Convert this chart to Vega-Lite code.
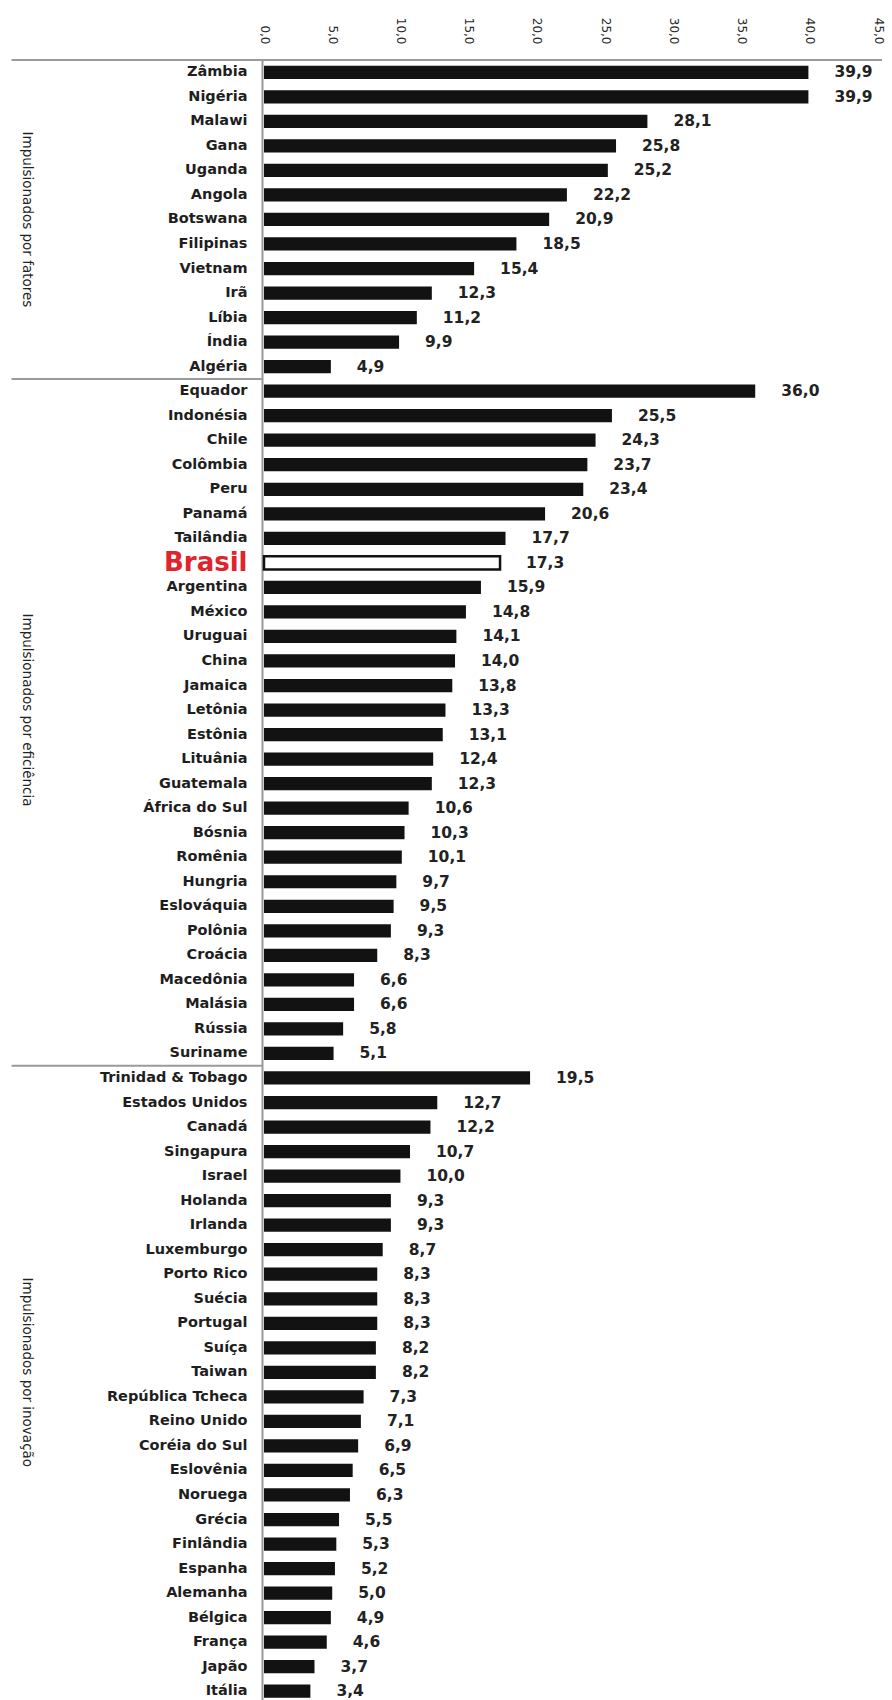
{
  "$schema": "https://vega.github.io/schema/vega-lite/v6.json",
  "autosize": {"type": "none"},
  "padding": {"left": 264, "top": 60, "right": 14, "bottom": 0},
  "width": 614,
  "height": 1643.5,
  "background": "white",
  "config": {"view": {"stroke": null}, "font": "DejaVu Sans"},
  "data": {
    "values": [
      {"grupo": "Impulsionados por fatores", "pais": "Zâmbia", "valor": 39.9},
      {"grupo": "Impulsionados por fatores", "pais": "Nigéria", "valor": 39.9},
      {"grupo": "Impulsionados por fatores", "pais": "Malawi", "valor": 28.1},
      {"grupo": "Impulsionados por fatores", "pais": "Gana", "valor": 25.8},
      {"grupo": "Impulsionados por fatores", "pais": "Uganda", "valor": 25.2},
      {"grupo": "Impulsionados por fatores", "pais": "Angola", "valor": 22.2},
      {"grupo": "Impulsionados por fatores", "pais": "Botswana", "valor": 20.9},
      {"grupo": "Impulsionados por fatores", "pais": "Filipinas", "valor": 18.5},
      {"grupo": "Impulsionados por fatores", "pais": "Vietnam", "valor": 15.4},
      {"grupo": "Impulsionados por fatores", "pais": "Irã", "valor": 12.3},
      {"grupo": "Impulsionados por fatores", "pais": "Líbia", "valor": 11.2},
      {"grupo": "Impulsionados por fatores", "pais": "Índia", "valor": 9.9},
      {"grupo": "Impulsionados por fatores", "pais": "Algéria", "valor": 4.9},
      {"grupo": "Impulsionados por eficiência", "pais": "Equador", "valor": 36.0},
      {"grupo": "Impulsionados por eficiência", "pais": "Indonésia", "valor": 25.5},
      {"grupo": "Impulsionados por eficiência", "pais": "Chile", "valor": 24.3},
      {"grupo": "Impulsionados por eficiência", "pais": "Colômbia", "valor": 23.7},
      {"grupo": "Impulsionados por eficiência", "pais": "Peru", "valor": 23.4},
      {"grupo": "Impulsionados por eficiência", "pais": "Panamá", "valor": 20.6},
      {"grupo": "Impulsionados por eficiência", "pais": "Tailândia", "valor": 17.7},
      {"grupo": "Impulsionados por eficiência", "pais": "Brasil", "valor": 17.3},
      {"grupo": "Impulsionados por eficiência", "pais": "Argentina", "valor": 15.9},
      {"grupo": "Impulsionados por eficiência", "pais": "México", "valor": 14.8},
      {"grupo": "Impulsionados por eficiência", "pais": "Uruguai", "valor": 14.1},
      {"grupo": "Impulsionados por eficiência", "pais": "China", "valor": 14.0},
      {"grupo": "Impulsionados por eficiência", "pais": "Jamaica", "valor": 13.8},
      {"grupo": "Impulsionados por eficiência", "pais": "Letônia", "valor": 13.3},
      {"grupo": "Impulsionados por eficiência", "pais": "Estônia", "valor": 13.1},
      {"grupo": "Impulsionados por eficiência", "pais": "Lituânia", "valor": 12.4},
      {"grupo": "Impulsionados por eficiência", "pais": "Guatemala", "valor": 12.3},
      {"grupo": "Impulsionados por eficiência", "pais": "África do Sul", "valor": 10.6},
      {"grupo": "Impulsionados por eficiência", "pais": "Bósnia", "valor": 10.3},
      {"grupo": "Impulsionados por eficiência", "pais": "Romênia", "valor": 10.1},
      {"grupo": "Impulsionados por eficiência", "pais": "Hungria", "valor": 9.7},
      {"grupo": "Impulsionados por eficiência", "pais": "Eslováquia", "valor": 9.5},
      {"grupo": "Impulsionados por eficiência", "pais": "Polônia", "valor": 9.3},
      {"grupo": "Impulsionados por eficiência", "pais": "Croácia", "valor": 8.3},
      {"grupo": "Impulsionados por eficiência", "pais": "Macedônia", "valor": 6.6},
      {"grupo": "Impulsionados por eficiência", "pais": "Malásia", "valor": 6.6},
      {"grupo": "Impulsionados por eficiência", "pais": "Rússia", "valor": 5.8},
      {"grupo": "Impulsionados por eficiência", "pais": "Suriname", "valor": 5.1},
      {"grupo": "Impulsionados por inovação", "pais": "Trinidad & Tobago", "valor": 19.5},
      {"grupo": "Impulsionados por inovação", "pais": "Estados Unidos", "valor": 12.7},
      {"grupo": "Impulsionados por inovação", "pais": "Canadá", "valor": 12.2},
      {"grupo": "Impulsionados por inovação", "pais": "Singapura", "valor": 10.7},
      {"grupo": "Impulsionados por inovação", "pais": "Israel", "valor": 10.0},
      {"grupo": "Impulsionados por inovação", "pais": "Holanda", "valor": 9.3},
      {"grupo": "Impulsionados por inovação", "pais": "Irlanda", "valor": 9.3},
      {"grupo": "Impulsionados por inovação", "pais": "Luxemburgo", "valor": 8.7},
      {"grupo": "Impulsionados por inovação", "pais": "Porto Rico", "valor": 8.3},
      {"grupo": "Impulsionados por inovação", "pais": "Suécia", "valor": 8.3},
      {"grupo": "Impulsionados por inovação", "pais": "Portugal", "valor": 8.3},
      {"grupo": "Impulsionados por inovação", "pais": "Suíça", "valor": 8.2},
      {"grupo": "Impulsionados por inovação", "pais": "Taiwan", "valor": 8.2},
      {"grupo": "Impulsionados por inovação", "pais": "República Tcheca", "valor": 7.3},
      {"grupo": "Impulsionados por inovação", "pais": "Reino Unido", "valor": 7.1},
      {"grupo": "Impulsionados por inovação", "pais": "Coréia do Sul", "valor": 6.9},
      {"grupo": "Impulsionados por inovação", "pais": "Eslovênia", "valor": 6.5},
      {"grupo": "Impulsionados por inovação", "pais": "Noruega", "valor": 6.3},
      {"grupo": "Impulsionados por inovação", "pais": "Grécia", "valor": 5.5},
      {"grupo": "Impulsionados por inovação", "pais": "Finlândia", "valor": 5.3},
      {"grupo": "Impulsionados por inovação", "pais": "Espanha", "valor": 5.2},
      {"grupo": "Impulsionados por inovação", "pais": "Alemanha", "valor": 5.0},
      {"grupo": "Impulsionados por inovação", "pais": "Bélgica", "valor": 4.9},
      {"grupo": "Impulsionados por inovação", "pais": "França", "valor": 4.6},
      {"grupo": "Impulsionados por inovação", "pais": "Japão", "valor": 3.7},
      {"grupo": "Impulsionados por inovação", "pais": "Itália", "valor": 3.4}
    ]
  },
  "transform": [
    {"window": [{"op": "row_number", "as": "n"}]},
    {
      "window": [{"op": "row_number", "as": "pos"}, {"op": "count", "as": "total"}],
      "groupby": ["grupo"],
      "frame": [null, null]
    },
    {"calculate": "replace(format(datum.valor, '.1f'), '.', ',')", "as": "rotulo"}
  ],
  "layer": [
    {
      "mark": {"type": "bar", "height": {"band": 0.54}, "strokeWidth": 2.5},
      "encoding": {
        "y": {
          "field": "pais",
          "type": "nominal",
          "sort": {"field": "n", "op": "min"},
          "scale": {"paddingInner": 0, "paddingOuter": 0},
          "axis": {
            "title": null,
            "orient": "left",
            "ticks": false,
            "tickSize": 0,
            "offset": 2,
            "domainColor": "#9a9a9a",
            "domainWidth": 2,
            "labelPadding": 15,
            "labelFont": "DejaVu Sans",
            "labelFontSize": {"condition": {"test": "datum.value === 'Brasil'", "value": 26}, "value": 14.5},
            "labelFontWeight": "bold",
            "labelColor": {"condition": {"test": "datum.value === 'Brasil'", "value": "#e0232c"}, "value": "#1e1e1e"},
            "labelLimit": 300
          }
        },
        "x": {
          "field": "valor",
          "type": "quantitative",
          "scale": {"domain": [0, 45], "nice": false},
          "axis": {
            "title": null,
            "orient": "top",
            "values": [0, 5, 10, 15, 20, 25, 30, 35, 40, 45],
            "labelExpr": "replace(format(datum.value, '.1f'), '.', ',')",
            "labelAngle": 90,
            "labelFont": "DejaVu Sans",
            "labelFontSize": 12,
            "labelColor": "#2a2a2a",
            "labelPadding": 16,
            "ticks": false,
            "tickSize": 0,
            "domain": false,
            "grid": false
          }
        },
        "fill": {"condition": {"test": "datum.pais === 'Brasil'", "value": "#ffffff"}, "value": "#121212"},
        "stroke": {"condition": {"test": "datum.pais === 'Brasil'", "value": "#121212"}, "value": "transparent"}
      }
    },
    {
      "mark": {"type": "text", "align": "left", "baseline": "middle", "dx": 26, "font": "DejaVu Sans", "fontSize": 15.5, "fontWeight": "bold", "color": "#222222"},
      "encoding": {
        "y": {"field": "pais", "type": "nominal", "sort": {"field": "n", "op": "min"}},
        "x": {"field": "valor", "type": "quantitative", "scale": {"domain": [0, 45], "nice": false}},
        "text": {"field": "rotulo"}
      }
    },
    {
      "transform": [{"filter": "datum.n === 1"}],
      "mark": {"type": "rule", "color": "#9a9a9a", "strokeWidth": 2},
      "encoding": {
        "y": {"field": "pais", "type": "nominal", "sort": {"field": "n", "op": "min"}, "bandPosition": 0},
        "x": {"datum": -18.5, "type": "quantitative", "scale": {"domain": [0, 45], "nice": false}},
        "x2": {"datum": 45.3}
      }
    },
    {
      "transform": [{"filter": "datum.pos === 1 && datum.n > 1"}],
      "mark": {"type": "rule", "color": "#9a9a9a", "strokeWidth": 2},
      "encoding": {
        "y": {"field": "pais", "type": "nominal", "sort": {"field": "n", "op": "min"}, "bandPosition": 0},
        "x": {"datum": -18.5, "type": "quantitative", "scale": {"domain": [0, 45], "nice": false}},
        "x2": {"datum": -0.15}
      }
    },
    {
      "transform": [{"filter": "datum.pos === ceil(datum.total / 2)"}],
      "mark": {"type": "text", "angle": 90, "align": "center", "baseline": "middle", "font": "DejaVu Sans", "fontSize": 13.5, "color": "#222222"},
      "encoding": {
        "y": {"field": "pais", "type": "nominal", "sort": {"field": "n", "op": "min"}},
        "x": {"datum": -17.4, "type": "quantitative", "scale": {"domain": [0, 45], "nice": false}},
        "text": {"field": "grupo"}
      }
    }
  ]
}
